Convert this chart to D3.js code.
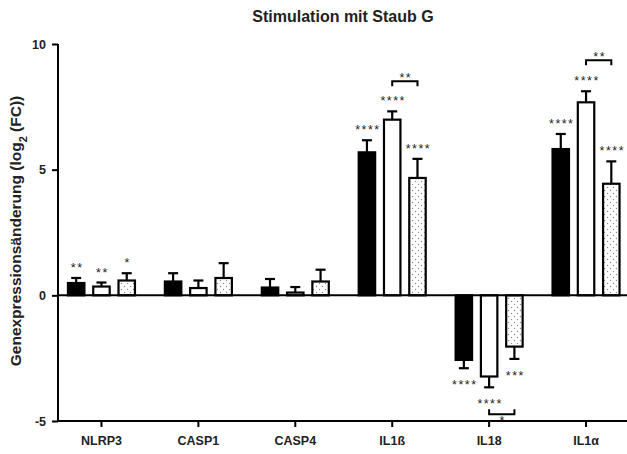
<!DOCTYPE html>
<html><head><meta charset="utf-8">
<script src="https://cdn.jsdelivr.net/npm/d3@7"></script>
<style>body{margin:0;background:#fff}svg{display:block}text{font-family:"Liberation Sans",Arial,sans-serif}</style>
</head><body><svg id="c" width="627" height="454"></svg>
<script>
const categories = ["NLRP3","CASP1","CASP4","IL1ß","IL18","IL1α"];
const seriesNames = ["black","white","dotted"];
const blackVals  = [0.49, 0.55, 0.31, 5.69, -2.57, 5.82];
const blackErr   = [0.20, 0.33, 0.34, 0.48, 0.33, 0.60];
const whiteVals  = [0.35, 0.29, 0.11, 6.99, -3.23, 7.68];
const whiteErr   = [0.16, 0.30, 0.22, 0.33, 0.43, 0.44];
const dottedVals = [0.59, 0.69, 0.55, 4.67, -2.04, 4.44];
const dottedErr  = [0.29, 0.59, 0.47, 0.76, 0.49, 0.89];
const blackSig   = ["**","","","****","****","****"];
const whiteSig   = ["**","","","****","****","****"];
const dottedSig  = ["*","","","****","***","****"];
const yTicks = [-5,0,5,10];
const yTickLabels = ["-5","0","5","10"];
// pairwise comparisons: category, series from, series to, level (data units), label
const compCats   = ["IL1ß","IL18","IL1α"];
const compFrom   = [1,1,1];
const compTo     = [2,2,2];
const compLevel  = [8.52,-4.73,9.35];
const compLabel  = ["**","*","**"];

const svg = d3.select("#c");
const y = d3.scaleLinear().domain([-5,10]).range([421,44]);
const x = d3.scaleBand().domain(categories).range([53,634.5]);
const xs = d3.scaleBand().domain([0,1,2]).range([-34.5,34.5]).paddingInner(0.27);

const defs = svg.append("defs");
const pat = defs.append("pattern").attr("id","dots").attr("patternUnits","userSpaceOnUse")
  .attr("width",6).attr("height",6);
pat.append("rect").attr("width",6).attr("height",6).attr("fill","#fff");
pat.append("circle").attr("cx",1.5).attr("cy",1.5).attr("r",0.65).attr("fill","#8a8a8a");
pat.append("circle").attr("cx",4.5).attr("cy",4.5).attr("r",0.65).attr("fill","#8a8a8a");

const fills = ["#000","#fff","url(#dots)"];
const vals = [blackVals, whiteVals, dottedVals];
const errs = [blackErr, whiteErr, dottedErr];
const sigs = [blackSig, whiteSig, dottedSig];

const rows = [];
categories.forEach((c,i)=>{
  seriesNames.forEach((s,j)=>{
    rows.push({cat:c, s:j, v:vals[j][i], e:errs[j][i], sig:sigs[j][i]});
  });
});
const cx = d => x(d.cat) + x.bandwidth()/2 + xs(d.s) + xs.bandwidth()/2;

// error bars
const eg = svg.append("g").attr("stroke","#000").attr("stroke-width",2.2);
rows.forEach(d=>{
  const tip = d.v >= 0 ? d.v + d.e : d.v - d.e;
  eg.append("line").attr("x1",cx(d)).attr("x2",cx(d)).attr("y1",y(d.v)).attr("y2",y(tip));
  eg.append("line").attr("x1",cx(d)-5).attr("x2",cx(d)+5).attr("y1",y(tip)).attr("y2",y(tip));
});

// bars
svg.append("g").selectAll("rect").data(rows).join("rect")
  .attr("x", d => cx(d) - xs.bandwidth()/2 + 1)
  .attr("width", xs.bandwidth() - 2)
  .attr("y", d => y(Math.max(0,d.v)))
  .attr("height", d => Math.abs(y(d.v) - y(0)))
  .attr("fill", d => fills[d.s])
  .attr("stroke","#000").attr("stroke-width",2.2);

// significance stars
svg.append("g").selectAll("text").data(rows.filter(d=>d.sig)).join("text")
  .attr("x", d => cx(d) + 1)
  .attr("y", d => d.v >= 0 ? y(d.v + d.e) - 6 : y(d.v - d.e) + 21)
  .attr("text-anchor","middle").attr("font-size",12.5).attr("letter-spacing",1.5)
  .attr("fill","#222").text(d => d.sig);

// comparison brackets
compCats.forEach((c,i)=>{
  const x1 = x(c) + x.bandwidth()/2 + xs(compFrom[i]) + xs.bandwidth()/2;
  const x2 = x(c) + x.bandwidth()/2 + xs(compTo[i]) + xs.bandwidth()/2;
  const yl = y(compLevel[i]);
  const dir = compLevel[i] >= 0 ? 1 : -1;
  svg.append("path").attr("fill","none").attr("stroke","#000").attr("stroke-width",2)
    .attr("d", `M${x1},${yl+dir*5}V${yl}H${x2}V${yl+dir*5}`);
  svg.append("text").attr("x",(x1+x2)/2+1)
    .attr("y", dir>0 ? yl + 1 : yl + 11)
    .attr("text-anchor","middle").attr("font-size",12.5).attr("letter-spacing",1.5)
    .attr("fill","#222").text(compLabel[i]);
});

// zero line
svg.append("line").attr("x1",58).attr("x2",627).attr("y1",y(0)).attr("y2",y(0))
  .attr("stroke","#000").attr("stroke-width",2);

// y axis
const ya = svg.append("g").attr("transform","translate(58,0)")
  .call(d3.axisLeft(y).tickValues(yTicks).tickSize(6).tickPadding(6)
    .tickFormat((d,i) => yTickLabels[i]));
ya.select(".domain").attr("stroke-width",2).attr("d",`M0,${y(10)}V${y(-5)}`);
ya.selectAll(".tick line").attr("stroke-width",2);
ya.selectAll("text").attr("font-size",12.5).attr("font-weight","bold").attr("fill","#222");

// x axis
const xa = svg.append("g").attr("transform",`translate(0,${y(-5)})`)
  .call(d3.axisBottom(x).tickSize(6).tickPadding(9));
xa.select(".domain").attr("stroke-width",2).attr("d","M58,0H627");
xa.selectAll(".tick line").attr("stroke-width",2);
xa.selectAll("text").attr("font-size",12.5).attr("font-weight","bold").attr("fill","#222");

// title
svg.append("text").attr("x",343).attr("y",21.5).attr("text-anchor","middle")
  .attr("font-size",16).attr("font-weight","bold").attr("fill","#222").text("Stimulation mit Staub G");

// y label
const yl = svg.append("text").attr("transform","translate(21,231) rotate(-90)")
  .attr("text-anchor","middle").attr("font-size",15.5).attr("font-weight","bold").attr("fill","#222");
yl.append("tspan").text("Genexpressionsänderung (log");
yl.append("tspan").attr("baseline-shift","sub").attr("font-size",11).text("2");
yl.append("tspan").text(" (FC))");
</script></body></html>
